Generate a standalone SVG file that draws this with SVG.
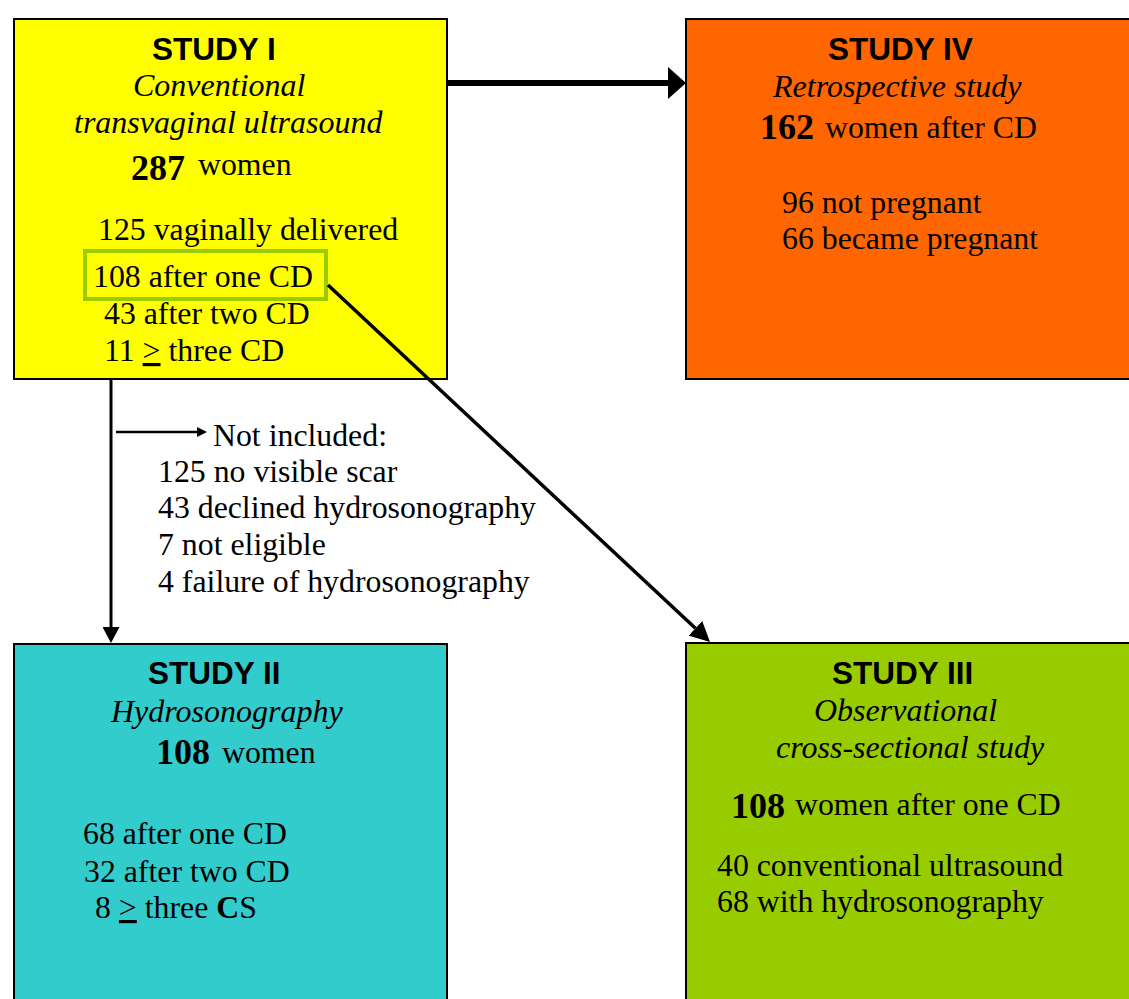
<svg xmlns="http://www.w3.org/2000/svg" width="1129" height="999" viewBox="0 0 1129 999">
<style>
.box{stroke:#000;stroke-width:2}
.h{font-family:"Liberation Sans",Arial,sans-serif;font-weight:bold;font-size:31.5px;fill:#000}
.i{font-family:"Liberation Serif","Times New Roman",serif;font-style:italic;font-size:32px;fill:#000}
.t{font-family:"Liberation Serif","Times New Roman",serif;font-size:31.8px;fill:#000}
.n{font-family:"Liberation Serif","Times New Roman",serif;font-weight:bold;font-size:36px;fill:#000}
.b{font-weight:bold}
.u{text-decoration:underline}
.c{fill:none;stroke:#000}
</style>
<defs>
<marker id="ahBig" markerUnits="userSpaceOnUse" viewBox="0 0 18 32" refX="0" refY="16" markerWidth="18" markerHeight="32" orient="auto"><path d="M0,0 L18,16 L0,32 z" fill="#000"/></marker>
<marker id="ahMid" markerUnits="userSpaceOnUse" viewBox="0 0 20 20" refX="0" refY="10" markerWidth="20" markerHeight="20" orient="auto"><path d="M0,0 L20,10 L0,20 z" fill="#000"/></marker>
<marker id="ahV" markerUnits="userSpaceOnUse" viewBox="0 0 16 17" refX="0" refY="8.5" markerWidth="16" markerHeight="17" orient="auto"><path d="M0,0 L16,8.5 L0,17 z" fill="#000"/></marker>
<marker id="ahS" markerUnits="userSpaceOnUse" viewBox="0 0 10 10" refX="0" refY="5" markerWidth="10" markerHeight="10" orient="auto"><path d="M0,0 L10,5 L0,10 z" fill="#000"/></marker>
</defs>
<rect width="1129" height="999" fill="#fff"/>

<g id="study1">
<rect class="box" x="14" y="19" width="433" height="360" fill="#ffff00"/>
<text class="h" x="152" y="60">STUDY I</text>
<text class="i" x="133" y="96">Conventional</text>
<text class="i" x="74" y="133">transvaginal ultrasound</text>
<text class="n" x="131" y="180">287</text>
<text class="t" x="198" y="175">women</text>
<text class="t" x="98" y="240">125 vaginally delivered</text>
<rect x="85" y="251" width="241" height="48" fill="none" stroke="#99cc00" stroke-width="4"/>
<text class="t" x="93" y="287">108 after one CD</text>
<text class="t" x="104" y="324">43 after two CD</text>
<text class="t" x="104" y="361">11 <tspan class="u">&gt;</tspan> three CD</text>
</g>

<g id="study4">
<rect class="box" x="686" y="19" width="460" height="360" fill="#ff6600"/>
<text class="h" x="828" y="60">STUDY IV</text>
<text class="i" x="773" y="97">Retrospective study</text>
<text class="n" x="760" y="139">162</text>
<text class="t" x="825" y="138">women after CD</text>
<text class="t" x="782" y="213">96 not pregnant</text>
<text class="t" x="782" y="249">66 became pregnant</text>
</g>

<g id="study2">
<rect class="box" x="14" y="644" width="433" height="380" fill="#33cccc"/>
<text class="h" x="148" y="684">STUDY II</text>
<text class="i" x="111" y="722">Hydrosonography</text>
<text class="n" x="156" y="764">108</text>
<text class="t" x="222" y="763">women</text>
<text class="t" x="83" y="844">68 after one CD</text>
<text class="t" x="84" y="882">32 after two CD</text>
<text class="t" x="95" y="918">8 <tspan class="u">&gt;</tspan> three <tspan class="b">C</tspan>S</text>
</g>

<g id="study3">
<rect class="box" x="686" y="643" width="460" height="380" fill="#99cc00"/>
<text class="h" x="832" y="684">STUDY III</text>
<text class="i" x="814" y="721">Observational</text>
<text class="i" x="776" y="758">cross-sectional study</text>
<text class="n" x="731" y="818">108</text>
<text class="t" x="795" y="815">women after one CD</text>
<text class="t" x="717" y="876">40 conventional ultrasound</text>
<text class="t" x="717" y="912">68 with hydrosonography</text>
</g>

<g id="excluded">
<text class="t" x="213" y="446">Not included:</text>
<text class="t" x="158" y="482">125 no visible scar</text>
<text class="t" x="158" y="518">43 declined hydrosonography</text>
<text class="t" x="158" y="555">7 not eligible</text>
<text class="t" x="158" y="592">4 failure of hydrosonography</text>
</g>

<g id="connectors">
<line class="c" x1="447" y1="83" x2="668" y2="83" stroke-width="6" marker-end="url(#ahBig)"/>
<line class="c" x1="111" y1="379" x2="111" y2="627" stroke-width="3" marker-end="url(#ahV)"/>
<line class="c" x1="116" y1="432" x2="197" y2="432" stroke-width="2.5" marker-end="url(#ahS)"/>
<line class="c" x1="328" y1="285" x2="695.4" y2="628.3" stroke-width="3.5" marker-end="url(#ahMid)"/>
</g>
</svg>
